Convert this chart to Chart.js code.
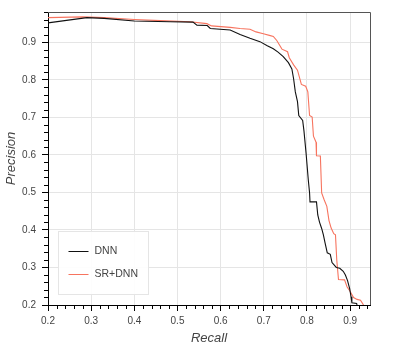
<!DOCTYPE html>
<html>
<head>
<meta charset="utf-8">
<script src="https://cdn.jsdelivr.net/npm/chart.js@4.4.1/dist/chart.umd.min.js"></script>
<style>
  body { margin: 0; background: #fff; }
</style>
</head>
<body>
<canvas id="grafico" width="400" height="350"></canvas>
<script>
// precision / recall
const dnnRecall = [0.200, 0.290, 0.330, 0.400, 0.483, 0.536, 0.545, 0.569, 0.576, 0.622, 0.645, 0.668, 0.691, 0.708, 0.722, 0.733, 0.745, 0.757, 0.765, 0.769, 0.773, 0.778, 0.781, 0.790, 0.793, 0.798, 0.803, 0.806, 0.807, 0.822, 0.825, 0.829, 0.834, 0.838, 0.842, 0.847, 0.854, 0.858, 0.868, 0.876, 0.884, 0.889, 0.894, 0.899, 0.902, 0.904, 0.915, 0.916];
const dnnPrecision = [0.952, 0.966, 0.964, 0.957, 0.955, 0.954, 0.946, 0.945, 0.937, 0.933, 0.921, 0.911, 0.902, 0.891, 0.883, 0.874, 0.862, 0.846, 0.829, 0.803, 0.768, 0.742, 0.705, 0.692, 0.664, 0.603, 0.534, 0.499, 0.475, 0.475, 0.440, 0.421, 0.404, 0.387, 0.365, 0.339, 0.335, 0.313, 0.300, 0.298, 0.290, 0.280, 0.265, 0.243, 0.222, 0.206, 0.204, 0.200];

const srRecall = [0.200, 0.280, 0.330, 0.400, 0.460, 0.529, 0.568, 0.579, 0.622, 0.645, 0.668, 0.682, 0.699, 0.715, 0.722, 0.730, 0.742, 0.755, 0.759, 0.769, 0.778, 0.787, 0.797, 0.802, 0.806, 0.812, 0.815, 0.821, 0.822, 0.831, 0.834, 0.840, 0.846, 0.851, 0.856, 0.862, 0.866, 0.869, 0.873, 0.887, 0.893, 0.899, 0.908, 0.916, 0.924, 0.931];
const srPrecision = [0.966, 0.968, 0.966, 0.961, 0.958, 0.955, 0.950, 0.944, 0.940, 0.937, 0.935, 0.928, 0.923, 0.918, 0.916, 0.905, 0.882, 0.875, 0.859, 0.840, 0.826, 0.788, 0.783, 0.768, 0.705, 0.701, 0.650, 0.634, 0.598, 0.597, 0.499, 0.480, 0.463, 0.425, 0.405, 0.390, 0.387, 0.320, 0.268, 0.267, 0.248, 0.238, 0.220, 0.215, 0.213, 0.200];

const seriesLabels = ['DNN', 'SR+DNN'];

const toPoints = (xs, ys) => xs.map((x, i) => ({ x: x, y: ys[i] }));

const fonte = "'Liberation Sans', Helvetica, Arial, sans-serif";

// bokeh-like extras: minor ticks, outline and legend inside the plot
const extras = {
    id: 'extras',
    afterDraw(chart) {
        const c = chart.ctx;
        const a = chart.chartArea;
        const sx = chart.scales.x;
        const sy = chart.scales.y;

        c.save();
        c.strokeStyle = '#000';
        c.lineWidth = 1;
        c.beginPath();
        for (let v = 0.2; v <= sx.max + 1e-9; v += 0.02) {
            if (Math.abs(v * 10 - Math.round(v * 10)) < 1e-6) continue;
            const px = Math.round(sx.getPixelForValue(v)) + 0.5;
            c.moveTo(px, a.bottom);
            c.lineTo(px, a.bottom + 4);
        }
        for (let v = 0.2; v <= sy.max + 1e-9; v += 0.02) {
            if (Math.abs(v * 10 - Math.round(v * 10)) < 1e-6) continue;
            const py = Math.round(sy.getPixelForValue(v)) + 0.5;
            c.moveTo(a.left, py);
            c.lineTo(a.left - 4, py);
        }
        c.stroke();

        // outline top / right
        c.strokeStyle = '#555';
        c.beginPath();
        c.moveTo(a.left, Math.round(a.top) + 0.5);
        c.lineTo(Math.round(a.right) + 0.5, Math.round(a.top) + 0.5);
        c.lineTo(Math.round(a.right) + 0.5, a.bottom);
        c.stroke();

        // legend
        const bx = a.left + 10.5, by = a.bottom - 73.5, bw = 90, bh = 63;
        c.fillStyle = 'rgba(255,255,255,0.9)';
        c.fillRect(bx, by, bw, bh);
        c.strokeStyle = '#e5e5e5';
        c.strokeRect(bx, by, bw, bh);
        c.font = '10.5px ' + fonte;
        c.textBaseline = 'middle';
        chart.data.datasets.forEach((ds, i) => {
            const ly = by + 20 + i * 23;
            c.strokeStyle = ds.borderColor;
            c.lineWidth = 1;
            c.beginPath();
            c.moveTo(bx + 10, ly);
            c.lineTo(bx + 30, ly);
            c.stroke();
            c.fillStyle = '#444';
            c.fillText(ds.label, bx + 36, ly);
        });
        c.restore();
    }
};

const ctx = document.getElementById('grafico');

new Chart(ctx, {
    type: 'line',

    data: {
        datasets: [{
            label: seriesLabels[0],
            data: toPoints(dnnRecall, dnnPrecision),
            borderColor: '#111111',
            borderWidth: 1.1,
            pointRadius: 0,
            tension: 0
        }, {
            label: seriesLabels[1],
            data: toPoints(srRecall, srPrecision),
            borderColor: '#f7745f',
            borderWidth: 1.1,
            pointRadius: 0,
            tension: 0
        }]
    },

    options: {
        responsive: false,
        animation: false,
        devicePixelRatio: 1,
        layout: {
            padding: { top: 5, right: 30, left: 0, bottom: 0 }
        },

        plugins: {
            legend: { display: false },
            tooltip: { enabled: false }
        },

        scales: {
            x: {
                type: 'linear',
                min: 0.2,
                max: 0.946,
                afterFit: (s) => { s.height = 45; },
                border: { color: '#000', width: 1 },
                grid: { color: '#e5e5e5', tickColor: '#000', tickLength: 6 },
                ticks: {
                    stepSize: 0.1,
                    includeBounds: false,
                    maxRotation: 0,
                    padding: 4,
                    color: '#444',
                    font: { family: fonte, size: 10 },
                    callback: (v) => v.toFixed(1)
                },
                title: {
                    display: true,
                    text: 'Recall',
                    color: '#444',
                    font: { family: fonte, size: 13, style: 'italic' },
                    padding: { top: 0, bottom: 4 }
                }
            },
            y: {
                min: 0.2,
                max: 0.981,
                afterFit: (s) => { s.width = 48; },
                border: { color: '#000', width: 1 },
                grid: { color: '#e5e5e5', tickColor: '#000', tickLength: 6 },
                ticks: {
                    stepSize: 0.1,
                    includeBounds: false,
                    padding: 6,
                    color: '#444',
                    font: { family: fonte, size: 10 },
                    callback: (v) => v.toFixed(1)
                },
                title: {
                    display: true,
                    text: 'Precision',
                    color: '#444',
                    font: { family: fonte, size: 13, style: 'italic' },
                    padding: { top: 4, bottom: 0 }
                }
            }
        }
    },

    plugins: [extras]
});
</script>
</body>
</html>
